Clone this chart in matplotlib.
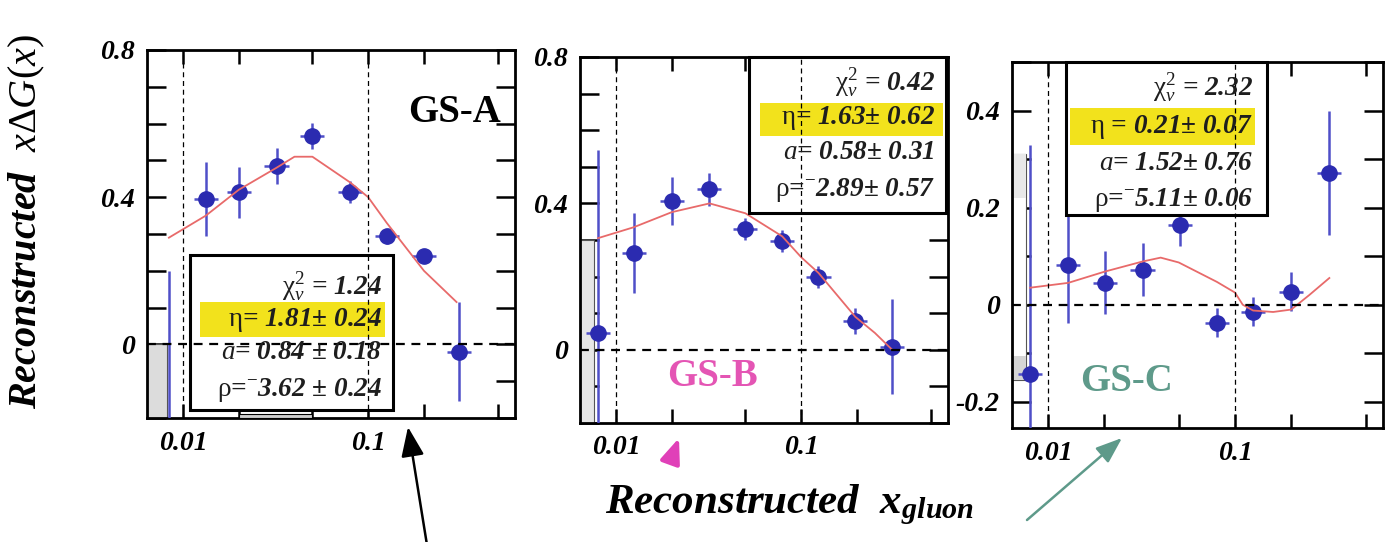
import numpy as np
import matplotlib
matplotlib.use("Agg")
import matplotlib.pyplot as plt
from matplotlib.patches import Rectangle, FancyArrowPatch
from matplotlib.ticker import FixedLocator, FixedFormatter, MultipleLocator, NullLocator

plt.rcParams['font.family'] = ['Liberation Serif', 'DejaVu Serif']
plt.rcParams['mathtext.fontset'] = 'custom'
plt.rcParams['mathtext.rm'] = 'Liberation Serif'
plt.rcParams['mathtext.it'] = 'Liberation Serif:italic'
plt.rcParams['mathtext.bf'] = 'Liberation Serif:bold:italic'

# ---------------- data ----------------
# GS-A
xa = [0.0084, 0.0133, 0.0200, 0.032, 0.050, 0.080, 0.126, 0.200, 0.31]
ya = [-0.30, 0.395, 0.413, 0.485, 0.566, 0.413, 0.294, 0.240, -0.020]
ea = [0.50, 0.10, 0.07, 0.05, 0.035, 0.03, 0.02, 0.02, 0.135]
fit_xa = [0.0084, 0.0133, 0.020, 0.032, 0.040, 0.050, 0.080, 0.100, 0.126, 0.200, 0.30]
fit_ya = [0.29, 0.35, 0.42, 0.48, 0.51, 0.51, 0.44, 0.40, 0.33, 0.20, 0.115]

# GS-B
xb = [0.0080, 0.0125, 0.0201, 0.0319, 0.050, 0.079, 0.124, 0.196, 0.31]
yb = [0.046, 0.264, 0.406, 0.438, 0.330, 0.297, 0.200, 0.079, 0.008]
eb = [0.50, 0.11, 0.065, 0.045, 0.03, 0.03, 0.03, 0.035, 0.13]
fit_xb = [0.0080, 0.0125, 0.020, 0.032, 0.050, 0.079, 0.100, 0.124, 0.196, 0.250, 0.31]
fit_yb = [0.305, 0.335, 0.376, 0.400, 0.373, 0.310, 0.253, 0.210, 0.090, 0.046, 0.0]

# GS-C
xc = [0.0080, 0.0128, 0.0202, 0.032, 0.0506, 0.080, 0.125, 0.200, 0.32]
yc = [-0.142, 0.082, 0.045, 0.072, 0.165, -0.037, -0.014, 0.027, 0.272]
ec = [0.47, 0.12, 0.065, 0.055, 0.045, 0.03, 0.03, 0.04, 0.128]
fit_xc = [0.0080, 0.0128, 0.020, 0.032, 0.040, 0.050, 0.080, 0.100, 0.110, 0.125, 0.160, 0.200, 0.250, 0.32]
fit_yc = [0.035, 0.045, 0.068, 0.089, 0.097, 0.087, 0.047, 0.025, 0.0, -0.012, -0.015, -0.01, 0.02, 0.055]

fit_text = {
    'A': [r"$\mathrm{\chi}^2_\nu$ = 1.24", r"$\mathrm{\eta}$= 1.81± 0.24",
          r"$a$= 0.84 ± 0.18", r"$\mathrm{\rho}$=$^{-}$3.62 ± 0.24"],
    'B': [r"$\mathrm{\chi}^2_\nu$ = 0.42", r"$\mathrm{\eta}$= 1.63± 0.62",
          r"$a$= 0.58± 0.31", r"$\mathrm{\rho}$=$^{-}$2.89± 0.57"],
    'C': [r"$\mathrm{\chi}^2_\nu$ = 2.32", r"$\mathrm{\eta}$ = 0.21± 0.07",
          r"$a$= 1.52± 0.76", r"$\mathrm{\rho}$=$^{-}$5.11± 0.06"],
}

xticks = [0.01, 0.02, 0.05, 0.1, 0.2, 0.5]
xticklabels = ["0.01", "", "", "0.1", "", ""]

# ---------------- styling ----------------
W, H = 1393, 542
fig = plt.figure(figsize=(W / 100, H / 100), dpi=100)

TICKFONT = dict(family='Liberation Serif', weight='bold', style='italic', size=20)
BOXFONT = dict(family='Liberation Serif', weight='bold', style='italic', size=19.5)
PT_COL = '#2B2BB0'
ERR_COL = '#4F4FC8'
FIT_COL = '#E86A6A'
HL_COL = '#F2E21C'
XHALF = 0.065  # half bin width in decades


def px_axes(l, r, t, b):
    return [l / W, 1 - b / H, (r - l) / W, (b - t) / H]


def panel(rect, xs, ys, es, fx, fy, ylim, ymajor, ylabels, text, box, hl, lines_y, text_x):
    ax = fig.add_axes(rect)
    ax.set_xscale('log')
    ax.set_xlim(0.0064, 0.62)
    ax.set_ylim(*ylim)
    ax.xaxis.set_major_locator(FixedLocator(xticks))
    ax.xaxis.set_major_formatter(FixedFormatter(xticklabels))
    ax.xaxis.set_minor_locator(NullLocator())
    ax.yaxis.set_major_locator(FixedLocator(ymajor))
    ax.yaxis.set_major_formatter(FixedFormatter(ylabels))
    ax.yaxis.set_minor_locator(MultipleLocator(0.1))
    ax.tick_params(axis='both', which='both', direction='in', top=True, right=True, width=1.8)
    ax.tick_params(axis='y', which='both', length=14, pad=9)
    ax.tick_params(axis='x', which='both', length=10, pad=9)
    for lab in ax.get_xticklabels() + ax.get_yticklabels():
        lab.set_fontproperties(matplotlib.font_manager.FontProperties(**TICKFONT))
    for s in ax.spines.values():
        s.set_linewidth(2.0)

    # reference lines
    for xv in (0.01, 0.1):
        ax.axvline(xv, color='black', lw=0.9, ls=(0, (4, 3)), zorder=6)
    ax.axhline(0, color='black', lw=1.6, ls=(0, (4, 3)), zorder=6)

    # data
    xs = np.array(xs)
    xerr = [xs - xs * 10 ** (-XHALF), xs * 10 ** XHALF - xs]
    ax.errorbar(xs, ys, yerr=es, xerr=xerr, fmt='o', ms=11, mfc=PT_COL, mec=PT_COL,
                ecolor=ERR_COL, elinewidth=1.8, capsize=0, zorder=3)
    ax.plot(fx, fy, color=FIT_COL, lw=1.3, zorder=4)

    # fit-result box
    bx0, bx1, by0, by1 = box
    ax.add_patch(Rectangle((bx0, by0), bx1 - bx0, by1 - by0, transform=ax.transAxes,
                           facecolor='white', edgecolor='black', lw=2.2, zorder=5, clip_on=False))
    hx0, hx1, hy0, hy1 = hl
    ax.add_patch(Rectangle((hx0, hy0), hx1 - hx0, hy1 - hy0, transform=ax.transAxes,
                           facecolor=HL_COL, edgecolor='none', zorder=5.5))
    for s, yy in zip(text, lines_y):
        ax.text(text_x, yy, s, transform=ax.transAxes, ha='right', va='center',
                color='#1E1E1E', zorder=7, **BOXFONT)
    return ax


axA = panel(px_axes(147, 515, 50, 418), xa, ya, ea, fit_xa, fit_ya, (-0.2, 0.8),
            [0, 0.4, 0.8], ["0", "0.4", "0.8"], fit_text['A'],
            (0.117, 0.668, 0.022, 0.443), (0.144, 0.647, 0.220, 0.315),
            [0.356, 0.266, 0.177, 0.076], 0.639)
axB = panel(px_axes(580, 948, 57, 423), xb, yb, eb, fit_xb, fit_yb, (-0.2, 0.8),
            [0, 0.4, 0.8], ["0", "0.4", "0.8"], fit_text['B'],
            (0.459, 0.995, 0.574, 1.0), (0.489, 0.986, 0.784, 0.874),
            [0.929, 0.833, 0.738, 0.637], 0.965)
axC = panel(px_axes(1012, 1383, 62, 428), xc, yc, ec, fit_xc, fit_yc, (-0.254, 0.5),
            [-0.2, 0, 0.2, 0.4], ["-0.2", "0", "0.2", "0.4"], fit_text['C'],
            (0.146, 0.687, 0.582, 1.0), (0.156, 0.655, 0.773, 0.874),
            [0.929, 0.822, 0.724, 0.623], 0.650)

# systematic uncertainty bands
def band(ax, x0, x1, y0, y1, fc, ec='#555555', z=2):
    ax.add_patch(Rectangle((x0, y0), x1 - x0, y1 - y0, facecolor=fc, edgecolor=ec,
                           lw=0.8, zorder=z))

band(axA, 0.0064, 0.0082, -0.2, 0.0, '#DCDCDC')
band(axA, 0.020, 0.050, -0.2, -0.19, '#CFCFCF', 'black', 6)
band(axB, 0.0064, 0.0076, -0.2, 0.30, '#E6E6E6')
band(axC, 0.0064, 0.0076, -0.155, 0.31, 'white')
band(axC, 0.0064, 0.0076, 0.22, 0.31, '#E8E8E8', 'none')
band(axC, 0.0064, 0.0076, -0.155, -0.105, '#D5D5D5', 'none')

# model labels
axA.text(0.835, 0.83, "GS-A", transform=axA.transAxes, ha='center', va='center',
         fontsize=28, fontweight='bold', color='black', family='Liberation Serif')
axB.text(0.36, 0.126, "GS-B", transform=axB.transAxes, ha='center', va='center',
         fontsize=28, fontweight='bold', color='#E455B4', family='Liberation Serif')
axC.text(0.31, 0.126, "GS-C", transform=axC.transAxes, ha='center', va='center',
         fontsize=28, fontweight='bold', color='#5E9A8A', family='Liberation Serif')

# axis titles
fig.text(27 / W, 1 - 222 / H, r"Reconstructed  $x\Delta G(x)$", rotation=90,
         ha='center', va='center', fontsize=29, fontweight='bold', style='italic')
fig.text(790 / W, 1 - 505 / H, r"Reconstructed  $\mathbf{x}_{\mathbf{gluon}}$",
         ha='center', va='center', fontsize=31, fontweight='bold', style='italic')

# pointer arrows
def arrow(p0, p1, color, lw, hw, hl):
    a = FancyArrowPatch((p0[0] / W, 1 - p0[1] / H), (p1[0] / W, 1 - p1[1] / H),
                        transform=fig.transFigure, arrowstyle=f'-|>,head_width={hw},head_length={hl}',
                        color=color, lw=lw, mutation_scale=10, shrinkA=0, shrinkB=0)
    fig.add_artist(a)

arrow((427, 545), (408, 427), 'black', 1.8, 0.7, 1.8)
arrow((1027, 520), (1122, 438), '#5E9A8A', 1.8, 0.6, 1.6)
arrow((671, 460), (679, 438), '#E040B8', 3.0, 0.6, 1.5)

fig.savefig("out.png", dpi=100)
